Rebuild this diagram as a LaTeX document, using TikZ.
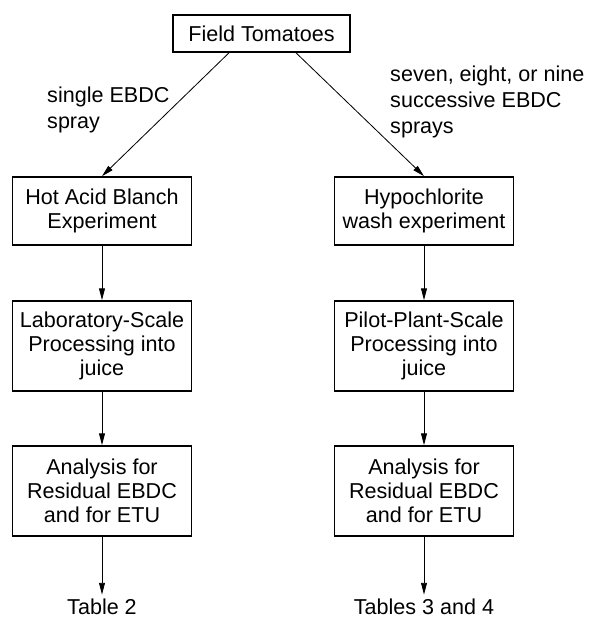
\documentclass[tikz,border=0pt]{standalone}
\usepackage{fontspec}
\setmainfont{Liberation Sans}
\usetikzlibrary{arrows.meta,calc,positioning}

\begin{document}
\begin{tikzpicture}[>={Triangle[length=10pt,width=5pt]}]

  \tikzstyle{stage} = [draw,line width=1.4pt,align=center,minimum width=5.37cm,font=\fontsize{18.4}{20.5}\selectfont]
  \tikzstyle{flow} = [->,line width=0.7pt]
  \tikzstyle{note} = [align=left,inner sep=0pt,font=\fontsize{18.4}{22}\selectfont]
  \tikzstyle{result} = [font=\fontsize{18.4}{20.5}\selectfont]

  \useasboundingbox (0,0) rectangle (17.64,-18.66);

  \node[stage,minimum width=5.31cm,minimum height=1.11cm] (field) at (7.845,-1.005) {Field Tomatoes};

  \node[stage,minimum height=2.04cm] (blanch) at (3.06,-6.33) {Hot Acid Blanch\\Experiment};
  \node[stage,minimum height=2.04cm] (wash) at (12.72,-6.33) {Hypochlorite\\wash experiment};

  \node[stage,minimum height=2.7cm] (lab) at (3.06,-10.38) {Laboratory-Scale\\Processing into\\juice};
  \node[stage,minimum height=2.7cm] (pilot) at (12.72,-10.38) {Pilot-Plant-Scale\\Processing into\\juice};

  \node[stage,minimum height=2.7cm] (anaL) at (3.06,-14.73) {Analysis for\\Residual EBDC\\and for ETU};
  \node[stage,minimum height=2.7cm] (anaR) at (12.72,-14.73) {Analysis for\\Residual EBDC\\and for ETU};

  \node[result] (tab2) at (3.06,-18.2) {Table 2};
  \node[result] (tab34) at (12.72,-18.2) {Tables 3 and 4};

  % spray treatments
  \node[note,anchor=west] (single) at (1.41,-3.3) {single EBDC\\spray};
  \node[note,anchor=west] (multi) at (11.7,-3.06) {seven, eight, or nine\\successive EBDC\\sprays};

  \draw[flow] ([xshift=-0.975cm]field.south) -- (blanch.north);
  \draw[flow] ([xshift=1.035cm]field.south) -- (wash.north);

  \draw[flow] (blanch) -- (lab);
  \draw[flow] (lab) -- (anaL);
  \draw[flow] (anaL) -- (tab2);

  \draw[flow] (wash) -- (pilot);
  \draw[flow] (pilot) -- (anaR);
  \draw[flow] (anaR) -- (tab34);

\end{tikzpicture}
\end{document}
